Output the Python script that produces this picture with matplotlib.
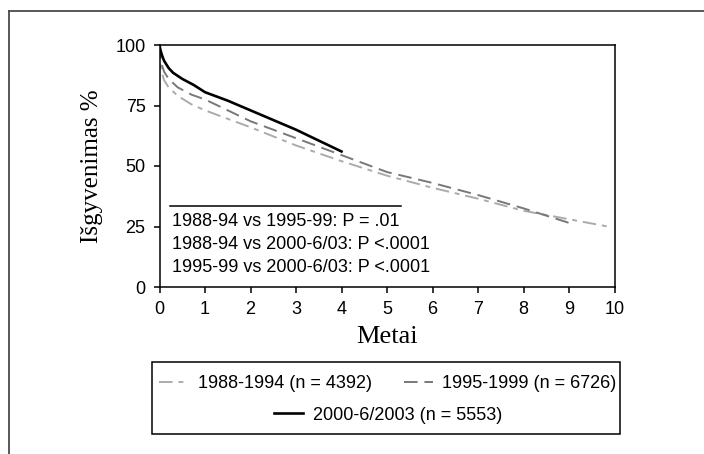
import matplotlib
matplotlib.use("Agg")
import matplotlib.pyplot as plt
from matplotlib.lines import Line2D
from matplotlib.patches import Rectangle

# survival curves (years, % surviving)
years_8894 = [0, 0.03, 0.1, 0.2, 0.4, 0.7, 1, 1.5, 2, 3, 4, 5, 6, 7, 8, 9, 9.85]
surv_8894 = [100, 90, 85.5, 82.5, 79, 75.5, 73, 69.5, 66, 58.5, 52, 46, 41, 36.5, 31.5, 28, 25]

years_9599 = [0, 0.03, 0.1, 0.2, 0.4, 0.7, 1, 1.5, 2, 3, 4, 5, 6, 7, 8, 8.5, 9]
surv_9599 = [100, 93, 89, 86, 82.5, 79.5, 77.5, 73, 68.5, 61.5, 54.5, 47.5, 43, 38, 32.5, 29.5, 26.5]

years_0003 = [0, 0.02, 0.05, 0.1, 0.2, 0.3, 0.5, 0.75, 1, 1.5, 2, 2.5, 3, 3.5, 4]
surv_0003 = [100, 98, 96, 93.5, 90.5, 88.5, 86, 83.5, 80.5, 77, 73, 69, 65, 60.5, 56]

series_labels = ["1988-1994 (n = 4392)", "1995-1999 (n = 6726)", "2000-6/2003 (n = 5553)"]
pvalue_lines = [
    "1988-94 vs 1995-99: P = .01",
    "1988-94 vs 2000-6/03: P <.0001",
    "1995-99 vs 2000-6/03: P <.0001",
]
x_ticks = list(range(0, 11))
y_ticks = [0, 25, 50, 75, 100]

sans = "Liberation Sans"
serif = "Liberation Serif"

fig = plt.figure(figsize=(7.04, 4.54), dpi=100)
ax = fig.add_axes([159.5 / 704, 1 - 287 / 454, 455 / 704, 242 / 454])

l1, = ax.plot(years_8894, surv_8894, color="#ababab", lw=1.4,
              linestyle=(0, (7, 3, 2.5, 3)))
l2, = ax.plot(years_9599, surv_9599, color="#787878", lw=1.4,
              linestyle=(0, (7, 3.5)))
l3, = ax.plot(years_0003, surv_0003, color="black", lw=1.9)

ax.set_xlim(0, 10)
ax.set_ylim(0, 100)
ax.set_xticks(x_ticks)
ax.set_yticks(y_ticks)
for s in ax.spines.values():
    s.set_linewidth(1.1)
ax.tick_params(direction="out", length=4, width=1.1, labelsize=13)
ax.tick_params(axis="x", pad=6)
ax.tick_params(axis="y", pad=6)
for lab in ax.get_xticklabels() + ax.get_yticklabels():
    lab.set_family(sans)

ax.set_xlabel("Metai", family=serif, fontsize=19, labelpad=6)
ax.set_ylabel("Išgyvenimas %", family=serif, fontsize=18, labelpad=9)

# p-value box inside the plot
ax.plot([0.23, 5.3], [33.5, 33.5], color="black", lw=1.1)
for txt, yv in zip(pvalue_lines, [26.9, 17.4, 7.9]):
    ax.text(0.27, yv, txt, family=sans, fontsize=13, va="center", ha="left")

# legend: frame plus two rows of entries
fig.patches.append(Rectangle((152 / 704, 1 - 434 / 454), 468 / 704, 72 / 454,
                             transform=fig.transFigure, fill=False,
                             edgecolor="black", lw=1.1))
leg_kw = dict(frameon=False, loc="center", prop={"family": sans, "size": 13},
              handlelength=1.6, handletextpad=0.55, borderpad=0, borderaxespad=0)
fig.legend([l1, l2], series_labels[:2], ncol=2, columnspacing=1.75,
           bbox_to_anchor=(388 / 704, 1 - 384 / 454), **leg_kw)
fig.legend([l3], series_labels[2:], bbox_to_anchor=(388 / 704, 1 - 415 / 454),
           **leg_kw)

# outer border (top and left only, as in the picture)
fig.add_artist(Line2D([9 / 704, 1], [1 - 11 / 454, 1 - 11 / 454],
                      transform=fig.transFigure, color="#4a4a4a", lw=1.3))
fig.add_artist(Line2D([9 / 704, 9 / 704], [0, 1 - 11 / 454],
                      transform=fig.transFigure, color="#4a4a4a", lw=1.3))

fig.savefig("out.png", dpi=100)
